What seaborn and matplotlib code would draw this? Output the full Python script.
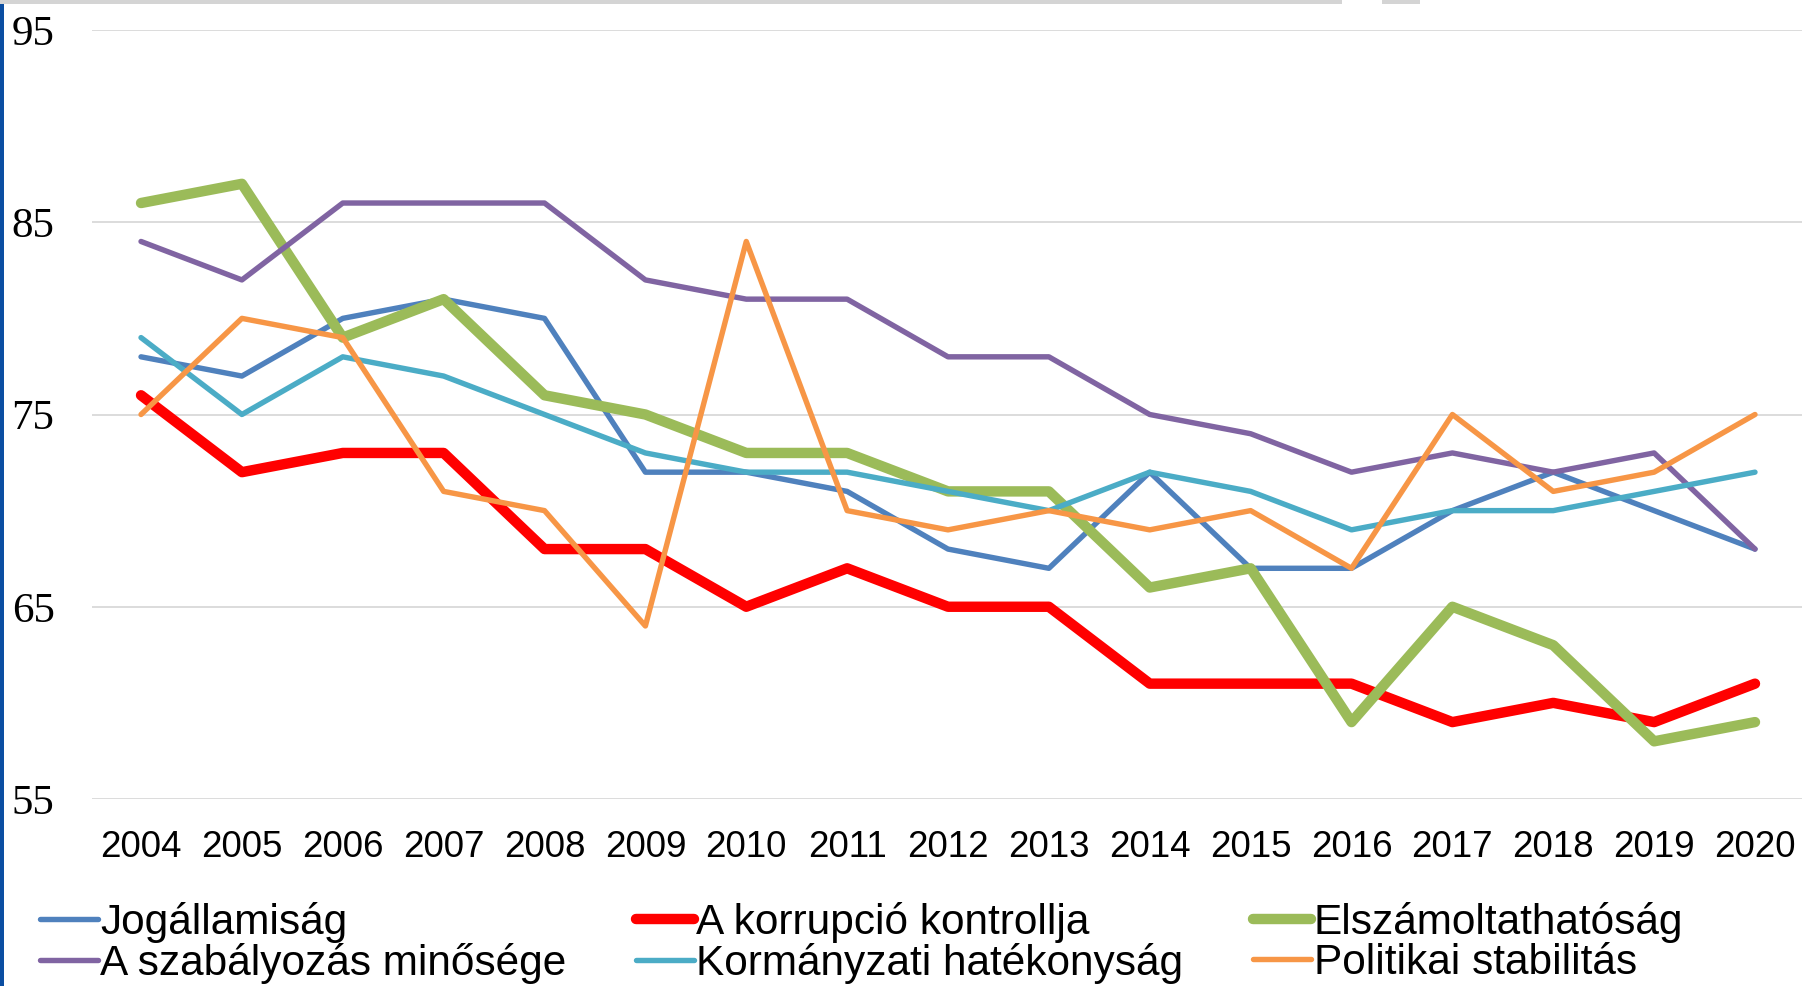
import pandas as pd
import numpy as np
import seaborn as sns
import matplotlib.pyplot as plt
from matplotlib.patches import Rectangle

years = list(range(2004, 2021))

jogallamisag = [78, 77, 80, 81, 80, 72, 72, 71, 68, 67, 72, 67, 67, 70, 72, 70, 68]
korrupcio = [76, 72, 73, 73, 68, 68, 65, 67, 65, 65, 61, 61, 61, 59, 60, 59, 61]
elszamoltathatosag = [86, 87, 79, 81, 76, 75, 73, 73, 71, 71, 66, 67, 59, 65, 63, 58, 59]
szabalyozas = [84, 82, 86, 86, 86, 82, 81, 81, 78, 78, 75, 74, 72, 73, 72, 73, 68]
kormanyzati = [79, 75, 78, 77, 75, 73, 72, 72, 71, 70, 72, 71, 69, 70, 70, 71, 72]
politikai = [75, 80, 79, 71, 70, 64, 84, 70, 69, 70, 69, 70, 67, 75, 71, 72, 75]

names = ["Jogállamiság", "A korrupció kontrollja", "Elszámoltathatóság",
         "A szabályozás minősége", "Kormányzati hatékonyság", "Politikai stabilitás"]
series = [jogallamisag, korrupcio, elszamoltathatosag, szabalyozas, kormanyzati, politikai]
colors = ["#4F81BD", "#FF0000", "#9BBB59", "#8064A2", "#4BACC6", "#F79646"]
widths = [3.9, 7.5, 7.5, 3.9, 3.9, 3.9]

df = pd.DataFrame({"Év": years})
for n, s in zip(names, series):
    df[n] = s

sns.set_style("white")
plt.rcParams["text.color"] = "black"
plt.rcParams["xtick.color"] = "black"
plt.rcParams["ytick.color"] = "black"

fig = plt.figure(figsize=(18.02, 9.86), dpi=100)
ax = fig.add_axes([92 / 1802, 1 - 799 / 986, 1 - 92 / 1802, (799 - 30) / 986])

for n, c, w in zip(names, colors, widths):
    sns.lineplot(data=df, x="Év", y=n, color=c, linewidth=w, label=n, ax=ax,
                 solid_capstyle="round", legend=False)

ax.set_ylim(55, 95)
ax.set_xlim(2004 - 0.486, 2020 + 0.466)
ax.set_yticks([55, 65, 75, 85, 95])
ax.set_yticklabels(["55", "65", "75", "85", "95"], family="Liberation Serif", fontsize=31)
ax.set_xticks(years)
ax.set_xticklabels([str(y) for y in years], family="Liberation Sans", fontsize=26.5)
ax.tick_params(axis="y", length=0, pad=27)
ax.tick_params(axis="x", length=0, pad=22)
ax.set_xlabel("")
ax.set_ylabel("")
ax.grid(axis="y", color="#D9D9D9", linewidth=1.3)
ax.set_axisbelow(True)
for sp in ax.spines.values():
    sp.set_visible(False)

# legend: fill by columns, so reorder to get rows like the original
handles, labels = ax.get_legend_handles_labels()
order = [0, 3, 1, 4, 2, 5]
fig.legend([handles[i] for i in order], [labels[i] for i in order],
           loc="upper left", bbox_to_anchor=(40 / 1802, 1 - 902 / 986), ncol=3,
           frameon=False, borderpad=0, borderaxespad=0,
           prop={"family": "Liberation Sans", "size": 30.5},
           handlelength=1.36, handletextpad=0.06, columnspacing=1.65, labelspacing=0.0)

# page edges from the screenshot
fig.add_artist(Rectangle((0, 0), 4 / 1802, 1, transform=fig.transFigure, color="#0B4EA2", lw=0))
fig.add_artist(Rectangle((0, 1 - 4 / 986), 1342 / 1802, 4 / 986, transform=fig.transFigure, color="#D4D4D4", lw=0))
fig.add_artist(Rectangle((1382 / 1802, 1 - 4 / 986), 38 / 1802, 4 / 986, transform=fig.transFigure, color="#D4D4D4", lw=0))

fig.savefig("out.png", dpi=100)
